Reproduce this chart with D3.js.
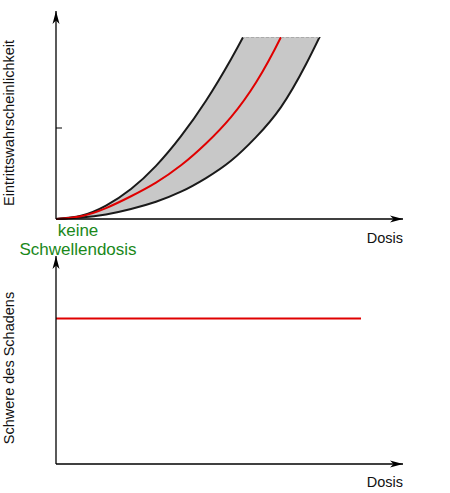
<!DOCTYPE html>
<html>
<head>
<meta charset="utf-8">
<script src="https://cdn.jsdelivr.net/npm/d3@7"></script>
<style>
  html, body { margin: 0; padding: 0; background: #fff; }
  svg { display: block; font-family: "Liberation Sans", Arial, sans-serif; }
</style>
</head>
<body>
<svg id="chart" width="450" height="493"></svg>
<script>
// ---- data ----
const doses      = [0, 1, 2, 3, 4, 5, 6, 7, 8, 9, 10, 11];
const upperProb  = [0, 0.018, 0.074, 0.165, 0.292, 0.455, 0.65, 0.878, 1.14, 1.45, 1.79, 2.17];
const meanProb   = [0, 0.015, 0.06, 0.125, 0.2, 0.295, 0.415, 0.56, 0.75, 1.0, 1.3, 1.63];
const lowerProb  = [0, 0.008, 0.025, 0.055, 0.095, 0.15, 0.225, 0.32, 0.45, 0.615, 0.85, 1.13];
const yTicks     = [0.5];
const severityDose = [0, 12.2];
const severity     = [0.8, 0.8];
const xLabel = "Dosis";
const yLabelTop = "Eintrittswahrscheinlichkeit";
const yLabelBottom = "Schwere des Schadens";
const noteLines = ["keine", "Schwellendosis"];

// ---- layout ----
const svg = d3.select("#chart");
const x = d3.scaleLinear().domain([0, 14]).range([56, 406]);
const yTop = d3.scaleLinear().domain([0, 1]).range([219, 37]);
const yBot = d3.scaleLinear().domain([0, 1]).range([464, 282]);

const defs = svg.append("defs");
defs.append("marker")
  .attr("id", "arrow")
  .attr("viewBox", "-13 -4 14 8")
  .attr("refX", 0).attr("refY", 0)
  .attr("markerWidth", 14).attr("markerHeight", 8)
  .attr("markerUnits", "userSpaceOnUse")
  .attr("orient", "auto")
  .append("path")
  .attr("d", "M0,0 L-13,-3.5 L-9.5,0 L-13,3.5 Z")
  .attr("fill", "#000");

defs.append("clipPath").attr("id", "clipTop")
  .append("rect")
  .attr("x", x(0)).attr("y", yTop(1))
  .attr("width", x(14) - x(0)).attr("height", yTop(0) - yTop(1) + 2);

const pts = doses.map((d, i) => ({d, up: upperProb[i], mid: meanProb[i], lo: lowerProb[i]}));

const area = d3.area()
  .x(p => x(p.d)).y0(p => yTop(p.lo)).y1(p => yTop(p.up))
  .curve(d3.curveNatural);
const lineOf = key => d3.line().x(p => x(p.d)).y(p => yTop(p[key])).curve(d3.curveNatural);

defs.append("clipPath").attr("id", "clipBand")
  .append("path").attr("d", area(pts));

const gTop = svg.append("g");
const band = gTop.append("g").attr("clip-path", "url(#clipTop)");
band.append("path").attr("d", area(pts)).attr("fill", "#c8c8c8");

// dashed top edge of the band (cut at probability 1)
gTop.append("g").attr("clip-path", "url(#clipBand)")
  .append("line")
  .attr("x1", x(0)).attr("x2", x(14))
  .attr("y1", yTop(1) + 0.5).attr("y2", yTop(1) + 0.5)
  .attr("stroke", "#aaaaaa").attr("stroke-width", 1)
  .attr("stroke-dasharray", "3,2");

band.append("path").attr("d", lineOf("up")(pts))
  .attr("fill", "none").attr("stroke", "#1a1a1a").attr("stroke-width", 2);
band.append("path").attr("d", lineOf("lo")(pts))
  .attr("fill", "none").attr("stroke", "#1a1a1a").attr("stroke-width", 2);
band.append("path").attr("d", lineOf("mid")(pts))
  .attr("fill", "none").attr("stroke", "#e00000").attr("stroke-width", 2);

// axes
function drawAxes(g, yScale, yTopPx) {
  g.append("line")
    .attr("x1", x(0)).attr("y1", yScale(0))
    .attr("x2", x(0)).attr("y2", yTopPx)
    .attr("stroke", "#000").attr("stroke-width", 1.3)
    .attr("marker-end", "url(#arrow)");
  g.append("line")
    .attr("x1", x(0)).attr("y1", yScale(0))
    .attr("x2", 403).attr("y2", yScale(0))
    .attr("stroke", "#000").attr("stroke-width", 1.3)
    .attr("marker-end", "url(#arrow)");
}
drawAxes(gTop, yTop, 11);

gTop.selectAll("line.tick").data(yTicks).enter().append("line")
  .attr("class", "tick")
  .attr("x1", x(0)).attr("x2", x(0) + 6)
  .attr("y1", d => yTop(d)).attr("y2", d => yTop(d))
  .attr("stroke", "#000").attr("stroke-width", 1);

gTop.append("text")
  .attr("x", 403).attr("y", 243)
  .attr("text-anchor", "end")
  .attr("font-size", "14.5px").attr("fill", "#111")
  .text(xLabel);

gTop.append("text")
  .attr("transform", "translate(14,123) rotate(-90)")
  .attr("text-anchor", "middle")
  .attr("font-size", "14.5px").attr("fill", "#111")
  .text(yLabelTop);

gTop.selectAll("text.note").data(noteLines).enter().append("text")
  .attr("class", "note")
  .attr("x", 78).attr("y", (d, i) => 236 + i * 19)
  .attr("text-anchor", "middle")
  .attr("font-size", "17px").attr("fill", "#1a881a")
  .text(d => d);

// ---- bottom chart ----
const gBot = svg.append("g");
gBot.append("path")
  .attr("d", d3.line().x(d => x(d)).y((d, i) => yBot(severity[i]))(severityDose))
  .attr("fill", "none").attr("stroke", "#e00000").attr("stroke-width", 2);

drawAxes(gBot, yBot, 256);

gBot.append("text")
  .attr("x", 403).attr("y", 487)
  .attr("text-anchor", "end")
  .attr("font-size", "14.5px").attr("fill", "#111")
  .text(xLabel);

gBot.append("text")
  .attr("transform", "translate(14,368) rotate(-90)")
  .attr("text-anchor", "middle")
  .attr("font-size", "14.5px").attr("fill", "#111")
  .text(yLabelBottom);
</script>
</body>
</html>
